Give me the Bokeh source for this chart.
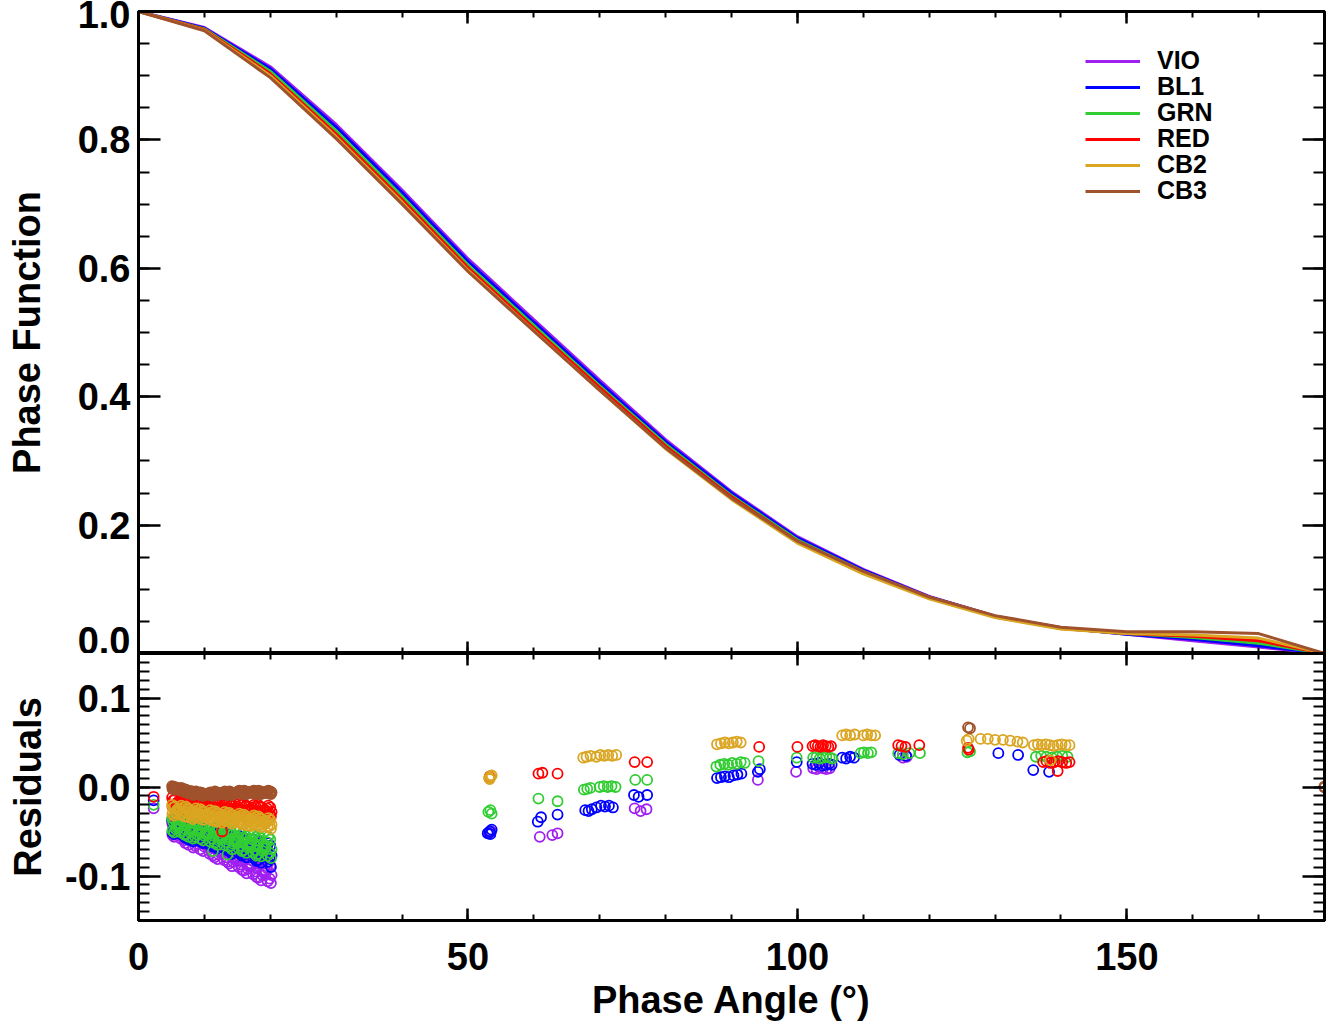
import numpy as np
from bokeh.plotting import figure
from bokeh.models import (Range1d, LinearAxis, FixedTicker, PrintfTickFormatter,
                          Legend, LegendItem)
from bokeh.layouts import column
from bokeh.embed import file_html
from bokeh.resources import INLINE

FONT = "Liberation Sans"

FILTERS = ["VIO", "BL1", "GRN", "RED", "CB2", "CB3"]
COLORS = ["#A020F0", "#0000FF", "#32CD32", "#FF0000", "#DAA520", "#A0522D"]

# ---- phase function (top panel) ----
ANGLES = [0, 10, 20, 30, 40, 50, 60, 70, 80, 90, 100, 110, 120, 130, 140, 150, 160, 170, 180]
PF_VIO = [1.0, 0.975, 0.914, 0.824, 0.722, 0.615, 0.520, 0.426, 0.333, 0.252, 0.182, 0.131, 0.089, 0.058, 0.040, 0.030, 0.020, 0.010, 0.0]
PF_BL1 = [1.0, 0.974, 0.911, 0.820, 0.718, 0.611, 0.516, 0.422, 0.330, 0.250, 0.180, 0.130, 0.088, 0.058, 0.040, 0.030, 0.022, 0.012, 0.0]
PF_GRN = [1.0, 0.973, 0.907, 0.814, 0.712, 0.605, 0.511, 0.417, 0.326, 0.246, 0.177, 0.128, 0.087, 0.057, 0.039, 0.031, 0.025, 0.016, 0.0]
PF_RED = [1.0, 0.972, 0.903, 0.809, 0.707, 0.601, 0.507, 0.414, 0.323, 0.244, 0.175, 0.127, 0.087, 0.057, 0.039, 0.031, 0.027, 0.020, 0.0]
PF_CB2 = [1.0, 0.971, 0.900, 0.805, 0.703, 0.597, 0.503, 0.410, 0.319, 0.240, 0.172, 0.124, 0.085, 0.056, 0.038, 0.031, 0.029, 0.024, 0.0]
PF_CB3 = [1.0, 0.970, 0.897, 0.802, 0.700, 0.595, 0.502, 0.410, 0.320, 0.242, 0.175, 0.128, 0.088, 0.059, 0.041, 0.034, 0.034, 0.031, 0.0]

# ---- residuals (bottom panel), low-phase observations, three interleaved sets ----
LOW_PHASE_A = [5.1, 5.4, 5.8, 6.1, 6.5, 6.9, 7.2, 7.6, 8.0, 8.3, 8.7, 9.1, 9.4, 9.8,
               10.2, 10.5, 10.9, 11.3, 11.6, 12.0, 12.4, 12.7, 13.1, 13.5, 13.8, 14.2,
               14.6, 14.9, 15.3, 15.7, 16.0, 16.4, 16.8, 17.1, 17.5, 17.9, 18.2, 18.6,
               19.0, 19.3, 19.7, 20.1]
LOW_PHASE_B = [5.25, 5.6, 5.95, 6.3, 6.7, 7.05, 7.4, 7.8, 8.15, 8.5, 8.9, 9.25, 9.6, 10.0,
               10.35, 10.7, 11.1, 11.45, 11.8, 12.2, 12.55, 12.9, 13.3, 13.65, 14.0, 14.4,
               14.75, 15.1, 15.5, 15.85, 16.2, 16.6, 16.95, 17.3, 17.7, 18.05, 18.4, 18.8,
               19.15, 19.5, 19.9, 20.2]
LOW_PHASE_C = [5.15, 5.5, 5.7, 6.0, 6.4, 6.8, 7.1, 7.5, 7.9, 8.2, 8.6, 9.0, 9.35, 9.7,
               10.1, 10.45, 10.8, 11.2, 11.55, 11.9, 12.3, 12.65, 13.0, 13.4, 13.75, 14.1,
               14.5, 14.85, 15.2, 15.6, 15.95, 16.3, 16.7, 17.05, 17.4, 17.8, 18.15, 18.5,
               18.9, 19.25, 19.6, 20.0]

VIO_LOW_A = [-0.040, -0.056, -0.048, -0.052, -0.044, -0.060, -0.047, -0.065, -0.056,
             -0.068, -0.050, -0.059, -0.054, -0.072, -0.063, -0.067, -0.057, -0.077,
             -0.061, -0.081, -0.071, -0.074, -0.064, -0.084, -0.067, -0.089, -0.078,
             -0.082, -0.071, -0.093, -0.075, -0.097, -0.086, -0.089, -0.077, -0.101,
             -0.081, -0.105, -0.093, -0.097, -0.085, -0.108]
VIO_LOW_B = [-0.044, -0.052, -0.046, -0.048, -0.056, -0.050, -0.052, -0.060, -0.058,
             -0.055, -0.064, -0.061, -0.059, -0.067, -0.065, -0.062, -0.072, -0.069,
             -0.066, -0.076, -0.073, -0.069, -0.079, -0.076, -0.073, -0.084, -0.080,
             -0.077, -0.087, -0.084, -0.080, -0.092, -0.088, -0.083, -0.095, -0.091,
             -0.087, -0.099, -0.095, -0.091, -0.103, -0.099]
VIO_LOW_C = [-0.054, -0.042, -0.050, -0.050, -0.058, -0.046, -0.063, -0.049, -0.058,
             -0.057, -0.066, -0.052, -0.070, -0.056, -0.065, -0.064, -0.075, -0.060,
             -0.079, -0.063, -0.073, -0.071, -0.082, -0.066, -0.086, -0.070, -0.081,
             -0.079, -0.090, -0.074, -0.094, -0.078, -0.089, -0.086, -0.098, -0.080,
             -0.102, -0.084, -0.096, -0.094, -0.106, -0.088]
BL1_LOW_A = [-0.037, -0.053, -0.045, -0.047, -0.039, -0.055, -0.041, -0.059, -0.050,
             -0.061, -0.043, -0.052, -0.045, -0.063, -0.054, -0.057, -0.047, -0.067,
             -0.049, -0.069, -0.059, -0.061, -0.051, -0.071, -0.053, -0.075, -0.064,
             -0.066, -0.055, -0.077, -0.057, -0.079, -0.068, -0.071, -0.059, -0.083,
             -0.061, -0.085, -0.073, -0.075, -0.063, -0.090]
BL1_LOW_B = [-0.041, -0.049, -0.043, -0.043, -0.051, -0.049, -0.046, -0.054, -0.052,
             -0.048, -0.056, -0.054, -0.050, -0.058, -0.056, -0.052, -0.062, -0.059,
             -0.054, -0.064, -0.061, -0.056, -0.066, -0.063, -0.059, -0.069, -0.066,
             -0.061, -0.071, -0.068, -0.062, -0.074, -0.070, -0.065, -0.077, -0.073,
             -0.067, -0.079, -0.075, -0.069, -0.081, -0.077]
BL1_LOW_C = [-0.051, -0.039, -0.047, -0.045, -0.053, -0.041, -0.057, -0.043, -0.052,
             -0.050, -0.059, -0.045, -0.061, -0.047, -0.056, -0.055, -0.065, -0.050,
             -0.067, -0.051, -0.062, -0.058, -0.069, -0.053, -0.072, -0.056, -0.067,
             -0.063, -0.074, -0.058, -0.076, -0.060, -0.071, -0.068, -0.080, -0.062,
             -0.082, -0.064, -0.076, -0.072, -0.084, -0.066]
GRN_LOW_A = [-0.035, -0.051, -0.043, -0.045, -0.037, -0.053, -0.038, -0.056, -0.047,
             -0.058, -0.040, -0.049, -0.042, -0.060, -0.051, -0.053, -0.043, -0.072,
             -0.045, -0.065, -0.055, -0.057, -0.047, -0.076, -0.048, -0.070, -0.059,
             -0.061, -0.050, -0.072, -0.052, -0.074, -0.063, -0.065, -0.053, -0.077,
             -0.054, -0.078, -0.066, -0.068, -0.056, -0.080]
GRN_LOW_B = [-0.039, -0.047, -0.041, -0.041, -0.049, -0.047, -0.043, -0.051, -0.049,
             -0.045, -0.053, -0.051, -0.047, -0.055, -0.053, -0.048, -0.058, -0.055,
             -0.050, -0.060, -0.057, -0.052, -0.062, -0.059, -0.054, -0.064, -0.061,
             -0.056, -0.066, -0.063, -0.058, -0.068, -0.065, -0.059, -0.071, -0.067,
             -0.060, -0.072, -0.068, -0.062, -0.074, -0.070]
GRN_LOW_C = [-0.049, -0.037, -0.045, -0.043, -0.051, -0.039, -0.054, -0.040, -0.049,
             -0.047, -0.056, -0.042, -0.058, -0.044, -0.053, -0.051, -0.061, -0.046,
             -0.063, -0.047, -0.058, -0.054, -0.065, -0.049, -0.067, -0.051, -0.062,
             -0.058, -0.069, -0.053, -0.071, -0.055, -0.066, -0.062, -0.074, -0.056,
             -0.075, -0.057, -0.069, -0.065, -0.077, -0.059]
RED_LOW_A = [-0.012, -0.024, -0.018, -0.019, -0.013, -0.025, -0.014, -0.026, -0.020,
             -0.027, -0.015, -0.021, -0.015, -0.027, -0.021, -0.022, -0.016, -0.028,
             -0.017, -0.029, -0.023, -0.050, -0.017, -0.029, -0.018, -0.030, -0.024,
             -0.025, -0.019, -0.031, -0.019, -0.031, -0.025, -0.026, -0.020, -0.032,
             -0.020, -0.032, -0.026, -0.027, -0.021, -0.033]
RED_LOW_B = [-0.015, -0.021, -0.017, -0.016, -0.022, -0.018, -0.017, -0.023, -0.019,
             -0.018, -0.024, -0.020, -0.018, -0.024, -0.022, -0.019, -0.025, -0.023,
             -0.020, -0.026, -0.024, -0.020, -0.026, -0.024, -0.021, -0.027, -0.025,
             -0.022, -0.028, -0.026, -0.022, -0.028, -0.026, -0.023, -0.029, -0.027,
             -0.023, -0.029, -0.027, -0.024, -0.030, -0.028]
RED_LOW_C = [-0.022, -0.014, -0.020, -0.018, -0.023, -0.015, -0.024, -0.016, -0.021,
             -0.020, -0.025, -0.016, -0.025, -0.017, -0.022, -0.021, -0.026, -0.017,
             -0.027, -0.019, -0.024, -0.022, -0.027, -0.019, -0.028, -0.020, -0.025,
             -0.024, -0.029, -0.020, -0.029, -0.021, -0.026, -0.025, -0.030, -0.022,
             -0.030, -0.022, -0.027, -0.026, -0.031, -0.023]
CB2_LOW_A = [-0.020, -0.032, -0.026, -0.027, -0.021, -0.033, -0.022, -0.034, -0.028,
             -0.036, -0.024, -0.030, -0.025, -0.037, -0.031, -0.032, -0.026, -0.038,
             -0.027, -0.039, -0.033, -0.040, -0.028, -0.034, -0.029, -0.041, -0.035,
             -0.036, -0.030, -0.042, -0.031, -0.043, -0.037, -0.044, -0.032, -0.038,
             -0.033, -0.045, -0.039, -0.041, -0.035, -0.047]
CB2_LOW_B = [-0.023, -0.029, -0.025, -0.024, -0.030, -0.028, -0.025, -0.031, -0.027,
             -0.027, -0.033, -0.031, -0.028, -0.034, -0.030, -0.029, -0.035, -0.033,
             -0.030, -0.036, -0.032, -0.031, -0.037, -0.035, -0.032, -0.038, -0.034,
             -0.033, -0.039, -0.037, -0.034, -0.040, -0.036, -0.035, -0.041, -0.039,
             -0.036, -0.042, -0.038, -0.038, -0.044, -0.042]
CB2_LOW_C = [-0.030, -0.022, -0.028, -0.026, -0.031, -0.023, -0.033, -0.024, -0.029,
             -0.028, -0.034, -0.026, -0.035, -0.027, -0.032, -0.031, -0.036, -0.028,
             -0.037, -0.029, -0.034, -0.033, -0.038, -0.030, -0.039, -0.031, -0.036,
             -0.035, -0.040, -0.032, -0.041, -0.033, -0.038, -0.037, -0.042, -0.034,
             -0.043, -0.035, -0.040, -0.040, -0.045, -0.037]
CB3_LOW_A = [0.001, -0.003, -0.001, -0.003, -0.001, -0.005, -0.003, -0.007, -0.005,
             -0.009, -0.005, -0.007, -0.006, -0.010, -0.008, -0.008, -0.006, -0.010,
             -0.005, -0.009, -0.007, -0.007, -0.005, -0.009, -0.005, -0.009, -0.007,
             -0.006, -0.004, -0.008, -0.004, -0.008, -0.006, -0.006, -0.004, -0.008,
             -0.004, -0.008, -0.006, -0.006, -0.004, -0.008]
CB3_LOW_B = [0.000, -0.002, -0.001, -0.002, -0.004, -0.003, -0.004, -0.006, -0.005,
             -0.006, -0.008, -0.007, -0.007, -0.009, -0.008, -0.007, -0.009, -0.008,
             -0.006, -0.008, -0.007, -0.006, -0.008, -0.007, -0.006, -0.008, -0.007,
             -0.005, -0.007, -0.006, -0.005, -0.007, -0.006, -0.005, -0.007, -0.006,
             -0.005, -0.007, -0.006, -0.005, -0.007, -0.006]
CB3_LOW_C = [-0.002, 0.000, -0.001, -0.003, -0.004, -0.002, -0.006, -0.004, -0.005,
             -0.007, -0.008, -0.006, -0.009, -0.007, -0.008, -0.008, -0.009, -0.007,
             -0.008, -0.006, -0.007, -0.007, -0.008, -0.006, -0.008, -0.006, -0.007,
             -0.006, -0.007, -0.005, -0.007, -0.005, -0.006, -0.006, -0.007, -0.005,
             -0.007, -0.005, -0.006, -0.006, -0.007, -0.005]

# ---- residuals, remaining observations ----
VIO_HI_PHASE = [2.3, 53.2, 53.5, 60.9, 62.8, 63.6, 75.3, 76.2, 77.1, 94.0, 99.8,
                102.4, 102.9, 103.4, 103.9, 104.4, 104.9, 116.0, 116.6, 180.0]
VIO_HI_RES = [-0.024, -0.052, -0.050, -0.056, -0.054, -0.052, -0.024, -0.027, -0.025,
              0.008, 0.017, 0.021, 0.020, 0.022, 0.021, 0.020, 0.021, 0.033, 0.034, 0.0]

BL1_HI_PHASE = [2.3, 53.0, 53.3, 53.6, 53.4, 60.6, 61.1, 63.6, 67.8, 68.3, 68.8, 69.5,
                70.2, 70.8, 71.4, 72.0, 75.2, 75.9, 77.2, 87.8, 88.4, 89.0, 89.6, 90.3,
                90.9, 91.5, 94.0, 94.3, 99.9, 102.3, 102.8, 103.3, 103.8, 104.3, 104.8,
                105.2, 106.8, 107.4, 108.0, 108.6, 115.5, 116.5, 130.5, 133.5, 135.8,
                138.2, 180.0]
BL1_HI_RES = [-0.015, -0.052, -0.050, -0.048, -0.053, -0.039, -0.034, -0.031, -0.026,
              -0.027, -0.025, -0.023, -0.021, -0.022, -0.021, -0.023, -0.009, -0.011,
              -0.009, 0.010, 0.011, 0.012, 0.011, 0.013, 0.014, 0.015, 0.017, 0.020,
              0.028, 0.026, 0.025, 0.027, 0.024, 0.025, 0.026, 0.025, 0.033, 0.032,
              0.034, 0.033, 0.036, 0.035, 0.038, 0.036, 0.019, 0.017, 0.0]

GRN_HI_PHASE = [2.3, 53.1, 53.4, 53.6, 60.7, 63.6, 67.6, 68.1, 68.6, 70.0, 70.6, 71.2,
                71.8, 72.4, 75.4, 77.2, 87.7, 88.3, 88.9, 89.5, 90.1, 90.8, 91.4, 92.0,
                94.1, 99.9, 102.4, 102.9, 103.4, 103.9, 104.4, 104.9, 105.3, 109.6,
                110.1, 110.7, 111.2, 115.3, 116.0, 117.0, 118.6, 125.8, 126.2, 136.2,
                137.0, 137.8, 138.6, 139.4, 140.2, 141.0, 180.0]
GRN_HI_RES = [-0.020, -0.028, -0.026, -0.030, -0.013, -0.016, -0.003, -0.002, -0.001,
              0.000, 0.001, 0.000, 0.001, 0.000, 0.008, 0.008, 0.023, 0.025, 0.026,
              0.025, 0.027, 0.026, 0.028, 0.027, 0.029, 0.033, 0.033, 0.034, 0.032,
              0.033, 0.034, 0.033, 0.032, 0.038, 0.039, 0.038, 0.039, 0.038, 0.037,
              0.038, 0.038, 0.039, 0.040, 0.034, 0.035, 0.034, 0.033, 0.034, 0.035,
              0.034, 0.0]

RED_HI_PHASE = [2.3, 53.3, 60.7, 61.3, 63.6, 75.3, 77.2, 94.2, 100.0, 102.3, 102.7,
                103.1, 103.5, 103.9, 104.3, 104.7, 105.1, 115.3, 115.8, 116.4, 118.5,
                125.9, 126.0, 137.3, 137.8, 138.4, 139.0, 139.6, 140.2, 140.8, 141.3,
                139.5, 180.0]
RED_HI_RES = [-0.011, 0.012, 0.015, 0.016, 0.015, 0.028, 0.028, 0.045, 0.045, 0.046,
              0.047, 0.046, 0.045, 0.047, 0.046, 0.045, 0.046, 0.047, 0.046, 0.045,
              0.047, 0.044, 0.042, 0.028, 0.029, 0.027, 0.028, 0.029, 0.028, 0.027,
              0.028, 0.018, 0.0]

CB2_HI_PHASE = [53.2, 53.4, 53.6, 53.3, 67.5, 68.0, 68.6, 69.5, 70.1, 70.7, 71.3, 71.9,
                72.5, 87.8, 88.4, 89.0, 89.6, 90.2, 90.8, 91.4, 106.8, 107.4, 108.0,
                108.7, 110.0, 110.6, 111.2, 111.8, 125.7, 126.0, 127.8, 128.9, 130.0,
                131.2, 132.3, 133.4, 134.2, 135.9, 136.5, 137.1, 137.7, 138.3, 138.9,
                139.5, 140.1, 140.7, 141.3, 138.4, 180.0]
CB2_HI_RES = [0.010, 0.012, 0.013, 0.009, 0.033, 0.034, 0.035, 0.034, 0.036, 0.035,
              0.036, 0.035, 0.036, 0.048, 0.049, 0.050, 0.049, 0.050, 0.051, 0.050,
              0.058, 0.059, 0.058, 0.059, 0.058, 0.059, 0.058, 0.058, 0.052, 0.054,
              0.054, 0.054, 0.053, 0.053, 0.052, 0.051, 0.050, 0.047, 0.048, 0.047,
              0.048, 0.047, 0.046, 0.047, 0.048, 0.047, 0.047, 0.030, 0.0]

CB3_HI_PHASE = [125.9, 126.2, 180.0]
CB3_HI_RES = [0.067, 0.066, 0.0]

PF = [PF_VIO, PF_BL1, PF_GRN, PF_RED, PF_CB2, PF_CB3]
LOW_A = [VIO_LOW_A, BL1_LOW_A, GRN_LOW_A, RED_LOW_A, CB2_LOW_A, CB3_LOW_A]
LOW_B = [VIO_LOW_B, BL1_LOW_B, GRN_LOW_B, RED_LOW_B, CB2_LOW_B, CB3_LOW_B]
LOW_C = [VIO_LOW_C, BL1_LOW_C, GRN_LOW_C, RED_LOW_C, CB2_LOW_C, CB3_LOW_C]
HI_PHASE = [VIO_HI_PHASE, BL1_HI_PHASE, GRN_HI_PHASE, RED_HI_PHASE, CB2_HI_PHASE, CB3_HI_PHASE]
HI_RES = [VIO_HI_RES, BL1_HI_RES, GRN_HI_RES, RED_HI_RES, CB2_HI_RES, CB3_HI_RES]

X_MAJOR = [0, 50, 100, 150]
X_MINOR = [0, 10, 20, 30, 40, 50, 60, 70, 80, 90, 100, 110, 120, 130, 140, 150, 160, 170, 180]
PF_MAJOR = [0.0, 0.2, 0.4, 0.6, 0.8, 1.0]
PF_MINOR = [round(i * 0.05, 2) for i in range(21)]
RES_MAJOR = [-0.1, 0.0, 0.1]
RES_MINOR = [round(-0.15 + i * 0.01, 2) for i in range(31)]


def style_axis(ax, major, minor, labels):
    ax.axis_line_color = "black"
    ax.axis_line_width = 3
    ax.major_tick_in = major
    ax.major_tick_out = 0
    ax.minor_tick_in = minor
    ax.minor_tick_out = 0
    ax.major_tick_line_width = 2.5
    ax.minor_tick_line_width = 2
    ax.major_tick_line_color = "black"
    ax.minor_tick_line_color = "black"
    if labels:
        ax.major_label_text_font = FONT
        ax.major_label_text_font_style = "bold"
        ax.major_label_text_font_size = "38px"
        ax.major_label_text_color = "black"
    else:
        ax.major_label_text_font_size = "0px"
        ax.major_label_text_color = None
        ax.major_label_standoff = 0
    ax.axis_label_text_font = FONT
    ax.axis_label_text_font_style = "bold"
    ax.axis_label_text_font_size = "38px"
    ax.axis_label_text_color = "black"


x_range = Range1d(0, 180)

# ---------------- top panel ----------------
p1 = figure(frame_width=1186, frame_height=642, x_range=x_range, y_range=Range1d(0, 1.0),
            output_backend="svg", toolbar_location=None,
            min_border_left=138, min_border_right=4, min_border_top=11, min_border_bottom=0)
p1.grid.visible = False
p1.outline_line_color = "black"
p1.outline_line_width = 3
p1.background_fill_color = "white"

p1.xaxis.ticker = FixedTicker(ticks=X_MAJOR, minor_ticks=X_MINOR)
style_axis(p1.xaxis[0], 12, 6, False)
p1.yaxis.ticker = FixedTicker(ticks=PF_MAJOR, minor_ticks=PF_MINOR)
p1.yaxis.formatter = PrintfTickFormatter(format="%.1f")
style_axis(p1.yaxis[0], 22, 11, True)
p1.yaxis.axis_label = "Phase Function"
p1.yaxis.major_label_standoff = 8
p1.yaxis.axis_label_standoff = 27

ax_top = LinearAxis(ticker=FixedTicker(ticks=X_MAJOR, minor_ticks=X_MINOR))
style_axis(ax_top, 12, 6, False)
p1.add_layout(ax_top, "above")
ax_r1 = LinearAxis(ticker=FixedTicker(ticks=PF_MAJOR, minor_ticks=PF_MINOR))
style_axis(ax_r1, 22, 11, False)
p1.add_layout(ax_r1, "right")

for i, (name, col, vals) in enumerate(zip(FILTERS, COLORS, PF)):
    r = p1.line(ANGLES, vals, line_color=col, line_width=3)
    lg = Legend(items=[LegendItem(label=name, renderers=[r])],
                location=(947, 578 - 26 * i))
    lg.label_text_font = FONT
    lg.label_text_font_style = "bold"
    lg.label_text_font_size = "25px"
    lg.label_text_color = "black"
    lg.glyph_width = 55
    lg.glyph_height = 26
    lg.label_height = 26
    lg.label_standoff = 17
    lg.spacing = 0
    lg.padding = 0
    lg.margin = 0
    lg.border_line_color = None
    lg.background_fill_alpha = 0
    p1.add_layout(lg)

# ---------------- bottom panel ----------------
p2 = figure(frame_width=1186, frame_height=267, x_range=x_range, y_range=Range1d(-0.15, 0.15),
            output_backend="svg", toolbar_location=None,
            min_border_left=138, min_border_right=4, min_border_top=0, min_border_bottom=2)
p2.grid.visible = False
p2.outline_line_color = "black"
p2.outline_line_width = 3

p2.xaxis.ticker = FixedTicker(ticks=X_MAJOR, minor_ticks=X_MINOR)
style_axis(p2.xaxis[0], 12, 6, True)
p2.xaxis.axis_label = "Phase Angle (°)"
p2.xaxis.major_label_standoff = 22
p2.xaxis.axis_label_standoff = 6

p2.yaxis.ticker = FixedTicker(ticks=RES_MAJOR, minor_ticks=RES_MINOR)
p2.yaxis.formatter = PrintfTickFormatter(format="%.1f")
style_axis(p2.yaxis[0], 22, 11, True)
p2.yaxis.axis_label = "Residuals"
p2.yaxis.major_label_standoff = 8
p2.yaxis.axis_label_standoff = 13

ax_top2 = LinearAxis(ticker=FixedTicker(ticks=X_MAJOR, minor_ticks=X_MINOR))
style_axis(ax_top2, 12, 6, False)
p2.add_layout(ax_top2, "above")
ax_r2 = LinearAxis(ticker=FixedTicker(ticks=RES_MAJOR, minor_ticks=RES_MINOR))
style_axis(ax_r2, 22, 11, False)
p2.add_layout(ax_r2, "right")

for col, la, lb, lc, hp, hr in zip(COLORS, LOW_A, LOW_B, LOW_C, HI_PHASE, HI_RES):
    xs = LOW_PHASE_A + LOW_PHASE_B + LOW_PHASE_C + hp
    ys = la + lb + lc + hr
    p2.scatter(xs, ys, marker="circle", size=10, fill_color=None,
               line_color=col, line_width=1.8)

layout = column(p1, p2, spacing=0)
open("out.html", "w").write(file_html(layout, INLINE))
